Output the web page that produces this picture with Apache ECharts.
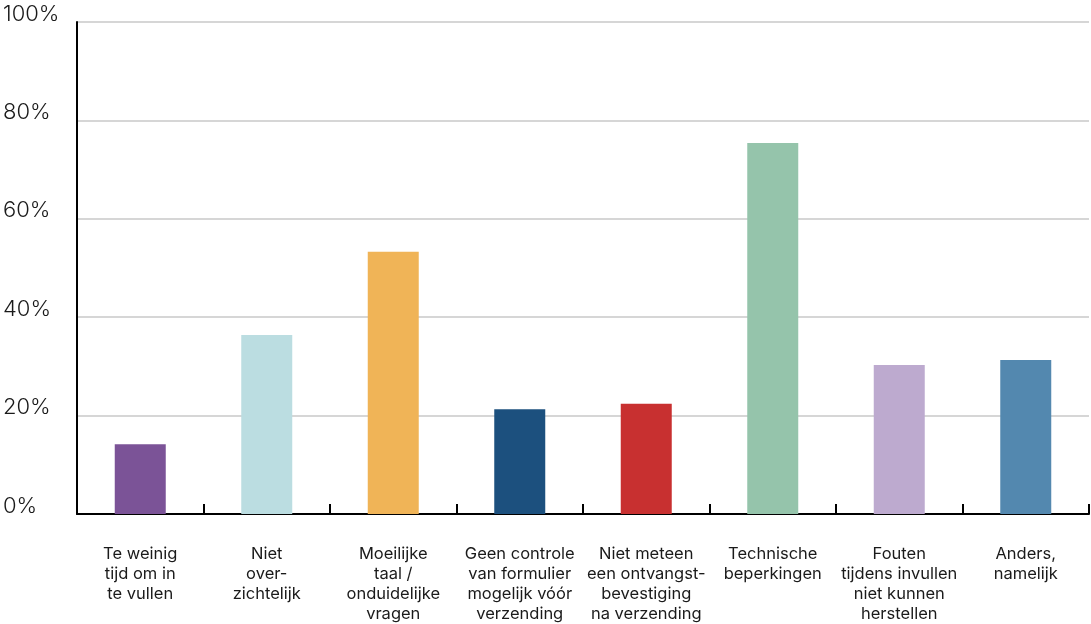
<!DOCTYPE html>
<html>
<head>
<meta charset="utf-8">
<script src="https://cdn.jsdelivr.net/npm/echarts@6/dist/echarts.min.js"></script>
<style>
  html, body { margin: 0; padding: 0; background: #ffffff; }
  #chart { width: 1091px; height: 624px; }
</style>
</head>
<body>
<div id="chart"></div>
<script>
// Reasons for problems when filling in the form (share of respondents, %)
const categories = [
  'Te weinig\ntijd om in\nte vullen',
  'Niet\nover-\nzichtelijk',
  'Moeilijke\ntaal /\nonduidelijke\nvragen',
  'Geen controle\nvan formulier\nmogelijk vóór\nverzending',
  'Niet meteen\neen ontvangst-\nbevestiging\nna verzending',
  'Technische\nbeperkingen',
  'Fouten\ntijdens invullen\nniet kunnen\nherstellen',
  'Anders,\nnamelijk'
];
const values = [14.2, 36.4, 53.3, 21.3, 22.4, 75.4, 30.3, 31.3];
const barColors = ['#7b5397', '#bbdde1', '#f0b457', '#1c507e', '#c83030', '#95c4ab', '#bdaacf', '#5388af'];
const yTicks = [0, 20, 40, 60, 80, 100];

const fontFamily = 'Inter, "Noto Sans", sans-serif';

const chart = echarts.init(document.getElementById('chart'), null, { renderer: 'canvas' });

chart.setOption({
  animation: false,
  backgroundColor: '#ffffff',
  grid: { left: 77, right: 2, top: 22, bottom: 109, containLabel: false },
  xAxis: {
    type: 'category',
    data: categories,
    boundaryGap: true,
    axisLine: { show: true, lineStyle: { color: '#000000', width: 2 } },
    axisTick: { show: true, inside: true, length: 10, lineStyle: { color: '#000000', width: 2 } },
    axisLabel: {
      interval: 0,
      margin: 30,
      color: '#1a1a1a',
      fontFamily: fontFamily,
      fontSize: 16.5,
      fontWeight: 400,
      lineHeight: 20,
      align: 'center'
    },
    splitLine: { show: false }
  },
  yAxis: {
    type: 'value',
    min: yTicks[0],
    max: yTicks[yTicks.length - 1],
    interval: 20,
    axisLine: { show: true, lineStyle: { color: '#000000', width: 2 } },
    axisTick: { show: false },
    axisLabel: {
      margin: 74,
      align: 'left',
      verticalAlign: 'bottom',
      color: '#1a1a1a',
      fontFamily: fontFamily,
      fontSize: 22,
      fontWeight: 300,
      padding: [0, 0, -3, 0],
      formatter: v => v + '%'
    },
    splitLine: { show: true, lineStyle: { color: '#c8c8c8', width: 1.5 } }
  },
  series: [{
    type: 'bar',
    barWidth: 51,
    data: values.map((v, i) => ({ value: v, itemStyle: { color: barColors[i] } })),
    z: 3
  }]
});
</script>
</body>
</html>
